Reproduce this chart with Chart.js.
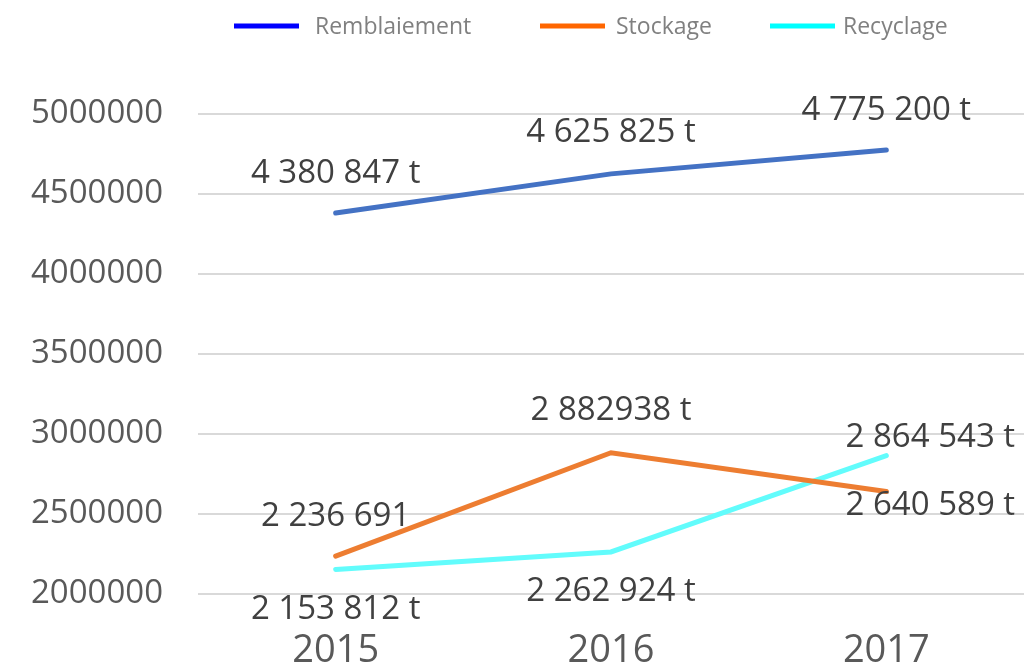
<!DOCTYPE html>
<html>
<head>
<meta charset="utf-8">
<script src="https://cdn.jsdelivr.net/npm/chart.js@4.4.1/dist/chart.umd.min.js"></script>
<style>
  html, body { margin: 0; padding: 0; background: #fff; }
  #wrap { width: 1024px; height: 663px; position: relative; }
</style>
</head>
<body>
<div id="wrap"><canvas id="tonnageChart"></canvas></div>
<script>
// Données
const years = ['2015', '2016', '2017'];
const remblaiement = [4380847, 4625825, 4775200];
const stockage = [2236691, 2882938, 2640589];
const recyclage = [2153812, 2262924, 2864543];

// Étiquettes de données telles qu'affichées
const remblaiementLabels = ['4 380 847 t', '4 625 825 t', '4 775 200 t'];
const stockageLabels = ['2 236 691', '2 882938 t', '2 640 589 t'];
const recyclageLabels = ['2 153 812 t', '2 262 924 t', '2 864 543 t'];

// Axe Y
const yMin = 2000000;
const yMax = 5000000;
const yStep = 500000;

// Décalage des étiquettes par rapport aux points [dx, dy]
const labelOffsets = [
    [[0, -39], [0, -41], [0, -39]],
    [[0, -40], [0, -42], [44, 14]],
    [[0, 40], [0, 40], [44, -18]]
];

// Légende : couleurs (différentes des traits), position des échantillons, écart texte
const legendColors = ['#0000ff', '#ff6600', '#00ffff'];
const legendSwatchX = [234, 540, 770];
const legendTextGap = [16, 11, 8];

// Légende dessinée à la main (alignement comme dans l'original)
const legendPlugin = {
    id: 'customLegend',
    afterDraw(chart) {
        const c = chart.ctx;
        c.save();
        c.font = '23px "Open Sans"';
        c.textBaseline = 'middle';
        const y = 26;
        chart.data.datasets.forEach((ds, i) => {
            const x = legendSwatchX[i];
            c.fillStyle = legendColors[i];
            c.fillRect(x, y - 2.5, 65, 5);
            c.fillStyle = '#808080';
            c.fillText(ds.label, x + 65 + legendTextGap[i], y + 1);
        });
        c.restore();
    }
};

// Plugin pour dessiner les étiquettes de données
const dataLabelsPlugin = {
    id: 'dataLabels',
    afterDatasetsDraw(chart) {
        const c = chart.ctx;
        c.save();
        c.font = '33px "Open Sans"';
        c.fillStyle = '#404040';
        c.textAlign = 'center';
        c.textBaseline = 'middle';
        chart.data.datasets.forEach((ds, di) => {
            const meta = chart.getDatasetMeta(di);
            meta.data.forEach((pt, i) => {
                const off = labelOffsets[di][i];
                c.fillText(ds.valueLabels[i], pt.x + off[0], pt.y + off[1]);
            });
        });
        c.restore();
    }
};

const ctx = document.getElementById('tonnageChart').getContext('2d');
const chart = new Chart(ctx, {
    type: 'line',
    data: {
        labels: years,
        datasets: [
            {
                label: 'Remblaiement',
                data: remblaiement,
                valueLabels: remblaiementLabels,
                borderColor: '#4472c4',
                borderWidth: 5,
                pointRadius: 0,
                borderCapStyle: 'round',
                tension: 0,
                clip: false
            },
            {
                label: 'Stockage',
                data: stockage,
                valueLabels: stockageLabels,
                borderColor: '#ed7d31',
                borderWidth: 5,
                pointRadius: 0,
                borderCapStyle: 'round',
                tension: 0,
                clip: false
            },
            {
                label: 'Recyclage',
                data: recyclage,
                valueLabels: recyclageLabels,
                borderColor: '#62fcfc',
                borderWidth: 5,
                pointRadius: 0,
                borderCapStyle: 'round',
                tension: 0,
                clip: false
            }
        ]
    },
    options: {
        responsive: true,
        maintainAspectRatio: false,
        animation: false,
        layout: {
            padding: { top: 114, left: 0, right: 0, bottom: 0 }
        },
        plugins: {
            tooltip: { enabled: false },
            legend: { display: false }
        },
        scales: {
            x: {
                offset: true,
                grid: { display: false, drawTicks: false },
                border: { display: false },
                ticks: {
                    color: '#595959',
                    font: { family: '"Open Sans"', size: 38 },
                    padding: 34,
                    maxRotation: 0
                },
                afterFit: (scale) => { scale.height = 69; }
            },
            y: {
                min: yMin,
                max: yMax,
                grid: { color: '#d9d9d9', lineWidth: 2, drawTicks: false },
                border: { display: false },
                ticks: {
                    stepSize: yStep,
                    color: '#595959',
                    font: { family: '"Open Sans"', size: 33 },
                    padding: 35,
                    callback: (v) => String(v)
                },
                afterFit: (scale) => { scale.width = 198; }
            }
        }
    },
    plugins: [dataLabelsPlugin, legendPlugin]
});
</script>
</body>
</html>
